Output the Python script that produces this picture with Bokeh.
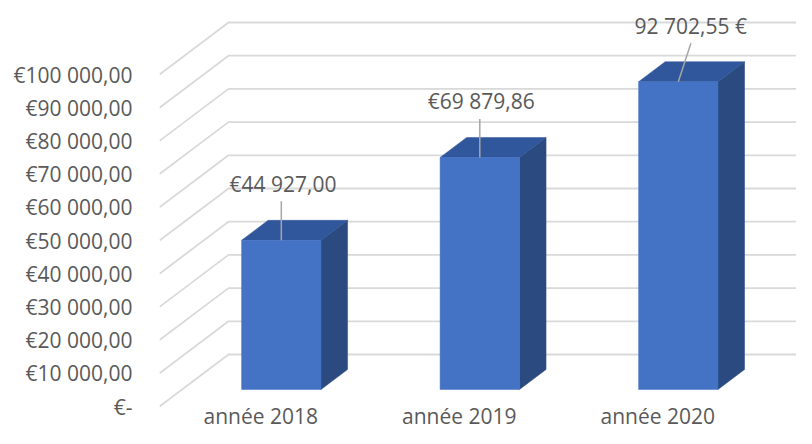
from bokeh.plotting import figure
from bokeh.models import Range1d, FixedTicker
from bokeh.core.properties import value
from bokeh.embed import file_html
from bokeh.resources import INLINE

# ---- data ----
categories = ["année 2018", "année 2019", "année 2020"]
amounts = [44927.00, 69879.86, 92702.55]
label_prefix = ["€", "€", ""]
label_suffix = ["", "", " €"]
tick_values = [0, 10000, 20000, 30000, 40000, 50000, 60000, 70000, 80000, 90000, 100000]
tick_labels = ["€-", "€10 000,00", "€20 000,00", "€30 000,00", "€40 000,00", "€50 000,00",
               "€60 000,00", "€70 000,00", "€80 000,00", "€90 000,00", "€100 000,00"]

# ---- styles / projection ----
PX_PER_CAT = 198.5          # px per category unit
PX_PER_VAL = 0.00332        # px per value unit
DX = 69 / PX_PER_CAT        # depth offset in category units
DV = 52 / PX_PER_VAL        # depth offset in value units
D0, D1 = 17 / 52, 37 / 52   # bar front / back depth
HW = 0.2                    # half bar width
FONT = "Open Sans"
TXT = "#595959"
W, H = 796, 428
LEFT = 159
FRONT_ZERO_Y = 406          # figure px of value 0 on front plane

def fmt(v):
    s = f"{v:,.2f}"
    intpart, dec = s.split(".")
    return intpart.replace(",", " ") + "," + dec

p = figure(width=W, height=H, output_backend="svg", toolbar_location=None,
           x_range=Range1d(0, (W - LEFT) / PX_PER_CAT),
           y_range=Range1d(-(H - FRONT_ZERO_Y) / PX_PER_VAL, FRONT_ZERO_Y / PX_PER_VAL),
           x_axis_location=None, y_axis_location="left",
           min_border=0, min_border_left=LEFT)
p.outline_line_color = None
p.grid.visible = False
p.background_fill_color = "white"
p.border_fill_color = "white"

ax = p.yaxis[0]
ax.ticker = FixedTicker(ticks=tick_values)
ax.major_label_overrides = {t: l for t, l in zip(tick_values, tick_labels)}
ax.axis_line_color = None
ax.major_tick_line_color = None
ax.minor_tick_line_color = None
ax.major_tick_out = 0
ax.major_tick_in = 0
ax.major_label_standoff = 27
ax.major_label_text_font = FONT
ax.major_label_text_font_size = "21px"
ax.major_label_text_color = TXT

# gridlines: diagonal side wall + back wall
xe = (W - LEFT) / PX_PER_CAT + 0.5
gx, gy = [], []
for t in tick_values:
    gx.append([0, DX, xe])
    gy.append([t, t + DV, t + DV])
p.multi_line(gx, gy, line_color="#d9d9d9", line_width=1.8)

# bars
front_x, front_y, top_x, top_y, side_x, side_y = [], [], [], [], [], []
for i, v in enumerate(amounts):
    c = i + 0.5
    l0, r0 = c - HW + DX * D0, c + HW + DX * D0
    l1, r1 = c - HW + DX * D1, c + HW + DX * D1
    b0, b1 = DV * D0, DV * D1
    t0, t1 = v + DV * D0, v + DV * D1
    front_x.append([l0, r0, r0, l0]); front_y.append([b0, b0, t0, t0])
    top_x.append([l0, r0, r1, l1]); top_y.append([t0, t0, t1, t1])
    side_x.append([r0, r1, r1, r0]); side_y.append([b0, b1, t1, t0])
p.patches(side_x, side_y, fill_color="#2b4a80", line_color="#2b4a80", line_width=0.5)
p.patches(top_x, top_y, fill_color="#30569b", line_color="#30569b", line_width=0.5)
p.patches(front_x, front_y, fill_color="#4472c4", line_color="#4472c4", line_width=0.5)

# data labels with leader lines
lab_dx = [1.7, 1.5, 12.4]
lab_dy = [-56, -56, -56]
lead_dx = [0, 0, 12.6]
lead_len = [39, 38.5, 38.5]
top_cx = [i + 0.5 + DX * D0 for i in range(len(amounts))]
top_cy = [v + DV * D0 for v in amounts]
p.segment(x0=top_cx, y0=top_cy,
          x1=[x + d / PX_PER_CAT for x, d in zip(top_cx, lead_dx)],
          y1=[y + L / PX_PER_VAL for y, L in zip(top_cy, lead_len)],
          line_color="#a6a6a6", line_width=1.5)
labels = [pre + fmt(v) + suf for pre, v, suf in zip(label_prefix, amounts, label_suffix)]
p.text(x=top_cx, y=top_cy, text=labels, x_offset=lab_dx, y_offset=lab_dy,
       text_align="center", text_baseline="middle",
       text_font=value(FONT), text_font_size="21px", text_color=TXT)

# category labels on front floor edge
p.text(x=[i + 0.5 for i in range(len(categories))], y=[0] * len(categories), text=categories,
       x_offset=2, y_offset=9, text_align="center", text_baseline="alphabetic",
       text_font=value(FONT), text_font_size="21px", text_color=TXT)

open("out.html", "w").write(file_html(p, INLINE))
